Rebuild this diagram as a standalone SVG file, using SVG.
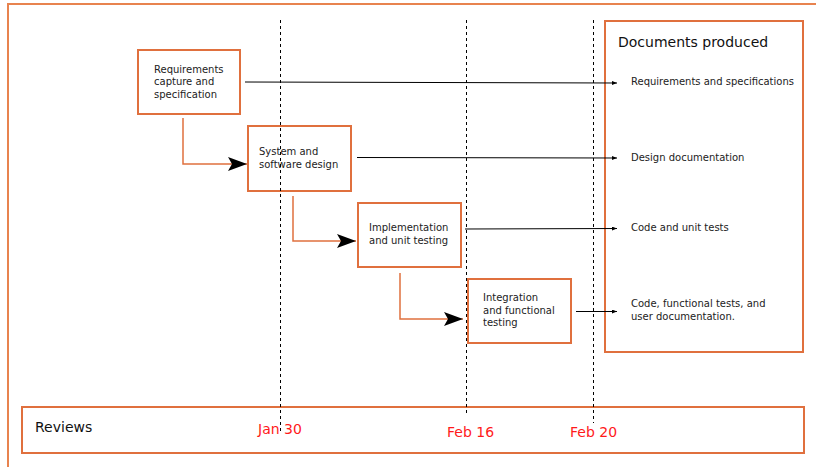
<svg xmlns="http://www.w3.org/2000/svg" width="816" height="467" viewBox="0 0 816 467">
<style>
.box{fill:#fff;stroke:#E0703E;stroke-width:2}
.t{font-family:"DejaVu Sans",sans-serif;font-size:10px;fill:#222}
.big{font-family:"DejaVu Sans",sans-serif;font-size:14px;fill:#111}
.date{font-family:"DejaVu Sans",sans-serif;font-size:14px;fill:#FF1A1A}
.flow{fill:none;stroke:#E0703E;stroke-width:1.5}
.doc{fill:none;stroke:#000;stroke-width:1}
.dash{stroke:#000;stroke-width:1;stroke-dasharray:3,3}
</style>
<defs>
<marker id="bigArrow" markerUnits="userSpaceOnUse" markerWidth="20" markerHeight="14" refX="19" refY="7" orient="auto">
<path d="M0,0 L19,7 L0,14 L4,7 z" fill="#000"/>
</marker>
<marker id="smallArrow" markerUnits="userSpaceOnUse" markerWidth="5" markerHeight="4" refX="5" refY="2" orient="auto">
<path d="M0,0 L5,2 L0,4 z" fill="#000"/>
</marker>
</defs>
<rect width="816" height="467" fill="#fff"/>
<path d="M8,467 L8,4 L816,4" fill="none" stroke="#E8834F" stroke-width="2"/>

<g id="documents">
<rect class="box" x="605" y="21" width="198" height="331"/>
<text class="big" x="618" y="47">Documents produced</text>
<text class="t" x="631" y="85">Requirements and specifications</text>
<text class="t" x="631" y="161">Design documentation</text>
<text class="t" x="631" y="231">Code and unit tests</text>
<text class="t" x="631" y="307">Code, functional tests, and</text>
<text class="t" x="631" y="320">user documentation.</text>
</g>

<g id="connectors">
<path class="flow" d="M183,118 V164 H247" marker-end="url(#bigArrow)"/>
<path class="flow" d="M293,196 V241 H356" marker-end="url(#bigArrow)"/>
<path class="flow" d="M400,273 V319 H463" marker-end="url(#bigArrow)"/>
<line class="doc" x1="245" y1="82" x2="617" y2="83" marker-end="url(#smallArrow)"/>
<line class="doc" x1="357" y1="157.5" x2="617" y2="158" marker-end="url(#smallArrow)"/>
<line class="doc" x1="465" y1="229" x2="617" y2="228.5" marker-end="url(#smallArrow)"/>
<line class="doc" x1="576" y1="311.5" x2="617" y2="311.5" marker-end="url(#smallArrow)"/>
</g>

<g id="req">
<rect class="box" x="138" y="50" width="102" height="64"/>
<text class="t" x="154" y="73">Requirements</text>
<text class="t" x="154" y="85">capture and</text>
<text class="t" x="154" y="98">specification</text>
</g>
<g id="design">
<rect class="box" x="248" y="126" width="103" height="65"/>
<text class="t" x="259" y="155">System and</text>
<text class="t" x="259" y="168">software design</text>
</g>
<g id="impl">
<rect class="box" x="358" y="203" width="103" height="64"/>
<text class="t" x="369" y="231">Implementation</text>
<text class="t" x="369" y="244">and unit testing</text>
</g>
<g id="integ">
<rect class="box" x="468" y="279" width="103" height="64"/>
<text class="t" x="483" y="301">Integration</text>
<text class="t" x="483" y="314">and functional</text>
<text class="t" x="483" y="326">testing</text>
</g>

<g id="reviews">
<rect class="box" x="22" y="407" width="782" height="46"/>
<text class="big" x="35" y="432">Reviews</text>
<text class="date" x="258" y="434">Jan 30</text>
<text class="date" x="447" y="437">Feb 16</text>
<text class="date" x="570" y="437">Feb 20</text>
</g>

<g id="timelines">
<line class="dash" x1="280.5" y1="20" x2="280.5" y2="433"/>
<line class="dash" x1="466.5" y1="20" x2="466.5" y2="414" stroke="#555"/>
<line class="dash" x1="593.5" y1="20" x2="593.5" y2="423"/>
</g>
</svg>
